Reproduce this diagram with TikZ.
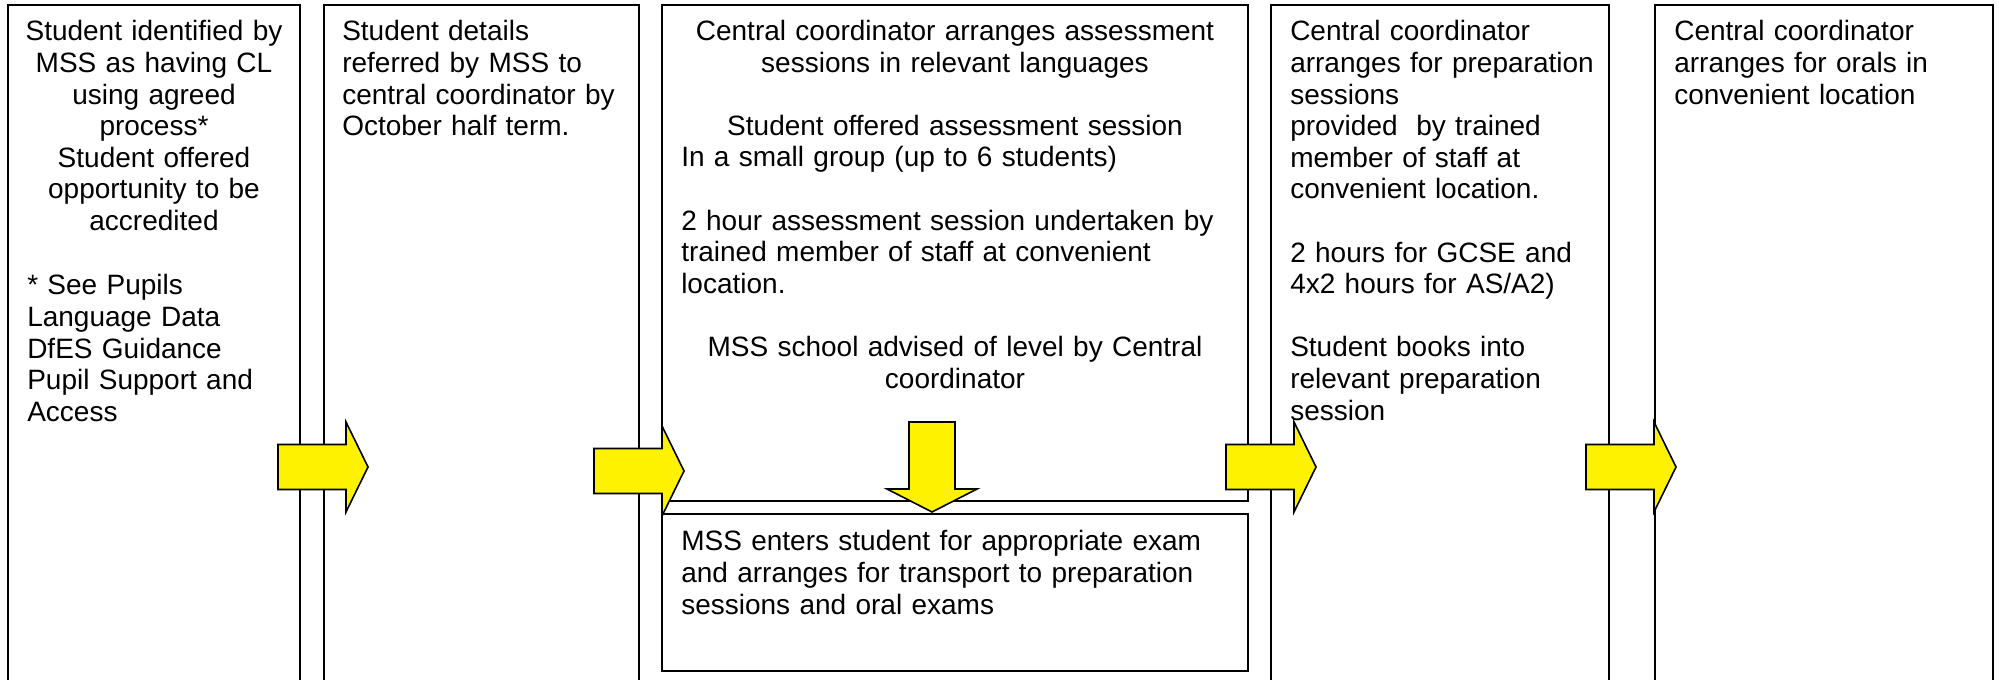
\documentclass[tikz,border=0pt]{standalone}
\usepackage{fontspec}
\setmainfont{Liberation Sans}
\usetikzlibrary{fit}
\tikzset{
  box/.style={draw=black, line width=1.2pt, inner sep=0pt, fill=none},
  txt/.style={inner sep=0pt, font=\fontsize{21pt}{23.7pt}\selectfont, text=black},
  ctxt/.style={txt, align=center, anchor=base},
  ltxt/.style={txt, align=left, anchor=base west},
  blockarrow/.style={draw=black, line width=1.2pt, fill=yellow, line join=miter},
  rarrow/.pic={\draw[blockarrow] (0,-22.5) -- (68,-22.5) -- (68,-45) -- (90,0) -- (68,45) -- (68,22.5) -- (0,22.5) -- cycle;},
  darrow/.pic={\draw[blockarrow] (-23,0) -- (23,0) -- (23,67) -- (45,67) -- (0,90) -- (-45,67) -- (-23,67) -- cycle;}
}
\begin{document}
\begin{tikzpicture}[x=0.75pt, y=-0.75pt]
\useasboundingbox (0,0) rectangle (1999,680);
\clip (0,0) rectangle (1999,680);
\fill[white] (0,0) rectangle (1999,680);
% boxes
\node[box, fit={(8,5) (300,700)}] (b1) {};
\node[box, fit={(324,5) (639,700)}] (b2) {};
\node[box, fit={(662,5) (1248,501)}] (b3) {};
\node[box, fit={(662,514) (1248,671)}] (b3l) {};
\node[box, fit={(1271,5) (1609,700)}] (b4) {};
\node[box, fit={(1655,5) (1993,700)}] (b5) {};
% box 1 text
\node[ctxt, text width=210pt] (t1a) at (154,41) {Student identified by\\ MSS as having CL\\ using agreed\\ process*\\ Student offered\\ opportunity to be\\ accredited};
\node[ltxt, text width=205pt] (t1b) at (27,295) {* See Pupils\\ Language Data\\ DfES Guidance\\ Pupil Support and\\ Access};
% box 2 text
\node[ltxt, text width=225pt] (t2) at (342,41) {Student details\\ referred by MSS to\\ central coordinator by\\ October half term.};
% box 3 text
\node[ctxt, text width=420pt] (t3a) at (955,41) {Central coordinator arranges assessment\\ sessions in relevant languages};
\node[ctxt, text width=420pt] (t3b) at (955,136) {Student offered assessment session};
\node[ltxt, text width=420pt] (t3c) at (681,167) {In a small group (up to 6 students)\\ \mbox{}\\ 2 hour assessment session undertaken by\\ trained member of staff at convenient\\ location.};
\node[ctxt, text width=420pt] (t3d) at (955,357) {MSS school advised of level by Central\\ coordinator};
\node[ltxt, text width=420pt] (t3e) at (681,551) {MSS enters student for appropriate exam\\ and arranges for transport to preparation\\ sessions and oral exams};
% box 4 text
\node[ltxt, text width=238pt] (t4) at (1290,41) {Central coordinator\\ arranges for preparation\\ sessions\\ provided\ \ by trained\\ member of staff at\\ convenient location.\\ \mbox{}\\ 2 hours for GCSE and\\ 4x2 hours for AS/A2)\\ \mbox{}\\ Student books into\\ relevant preparation\\ session};
% box 5 text
\node[ltxt, text width=238pt] (t5) at (1674,41) {Central coordinator\\ arranges for orals in\\ convenient location};
% block arrows
\pic at (278,467) {rarrow};
\pic at (594,471) {rarrow};
\pic at (1226,467) {rarrow};
\pic at (1586,467) {rarrow};
\pic at (932,422) {darrow};
\end{tikzpicture}
\end{document}
